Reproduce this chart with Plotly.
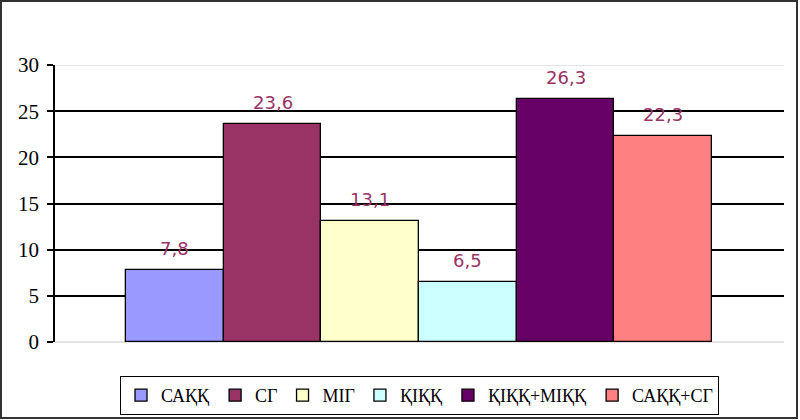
import plotly.graph_objects as go

categories = ["САҚҚ", "СГ", "МІГ", "ҚІҚҚ", "ҚІҚҚ+МІҚҚ", "САҚҚ+СГ"]
values = [7.8, 23.6, 13.1, 6.5, 26.3, 22.3]
colors = ["#9999FF", "#993366", "#FFFFCC", "#CCFFFF", "#660066", "#FF8080"]
y_ticks = [0, 5, 10, 15, 20, 25, 30]

W, H = 800, 420
ML, MR, MT, MB = 55, 16, 65, 78
PW, PH = W - ML - MR, H - MT - MB


def px_x(px):
    return (px - ML) / PW


def px_y(py):
    return (H - MB - py) / PH


fig = go.Figure()
for cat, val, col in zip(categories, values, colors):
    fig.add_trace(go.Bar(
        x=[cat], y=[val], name=cat, width=1,
        marker=dict(color=col, line=dict(color="black", width=1.3)),
    ))
    fig.add_annotation(
        x=cat, y=val, text=f"{val:.1f}".replace(".", ","),
        showarrow=False, yanchor="bottom", yshift=9,
        font=dict(family="DejaVu Sans", size=18, color="#993366"),
    )

# light line at the top of the value range
fig.add_shape(type="line", xref="paper", yref="y", x0=0, x1=1,
              y0=y_ticks[-1], y1=y_ticks[-1], layer="below",
              line=dict(color="#E3E3E3", width=2))
# outer frame
fig.add_shape(type="rect", xref="paper", yref="paper",
              x0=px_x(1), x1=px_x(W - 3), y0=px_y(H - 2), y1=px_y(1),
              line=dict(color="#333333", width=2), layer="above")

fig.update_layout(
    width=W, height=H,
    margin=dict(l=ML, r=MR, t=MT, b=MB, autoexpand=False),
    paper_bgcolor="white", plot_bgcolor="white",
    barmode="overlay", bargap=0,
    showlegend=True,
    legend=dict(orientation="h", x=0.5, xanchor="center",
                yref="container", y=(H - 376) / H, yanchor="top",
                bordercolor="black", borderwidth=1,
                font=dict(family="Liberation Serif", size=18, color="black"),
                itemwidth=30, traceorder="normal"),
    xaxis=dict(type="category", categoryorder="array", categoryarray=categories,
               range=[-1.227, 6.237], showticklabels=False, showgrid=False,
               zeroline=False, showline=False, ticks="", automargin=False),
    yaxis=dict(range=[0, 30], tickvals=y_ticks, ticktext=[str(t) for t in y_ticks],
               showgrid=True, gridcolor="black", gridwidth=1.5,
               zeroline=True, zerolinecolor="#E3E3E3", zerolinewidth=2,
               showline=True, linecolor="black", linewidth=1.5,
               ticks="outside", ticklen=6, tickcolor="black", tickwidth=1.5,
               ticklabelstandoff=4, automargin=False,
               tickfont=dict(family="Liberation Serif", size=21, color="black")),
)

fig.write_html("out.html", config={"displayModeBar": False},
               post_script="document.body.style.margin='0';")
